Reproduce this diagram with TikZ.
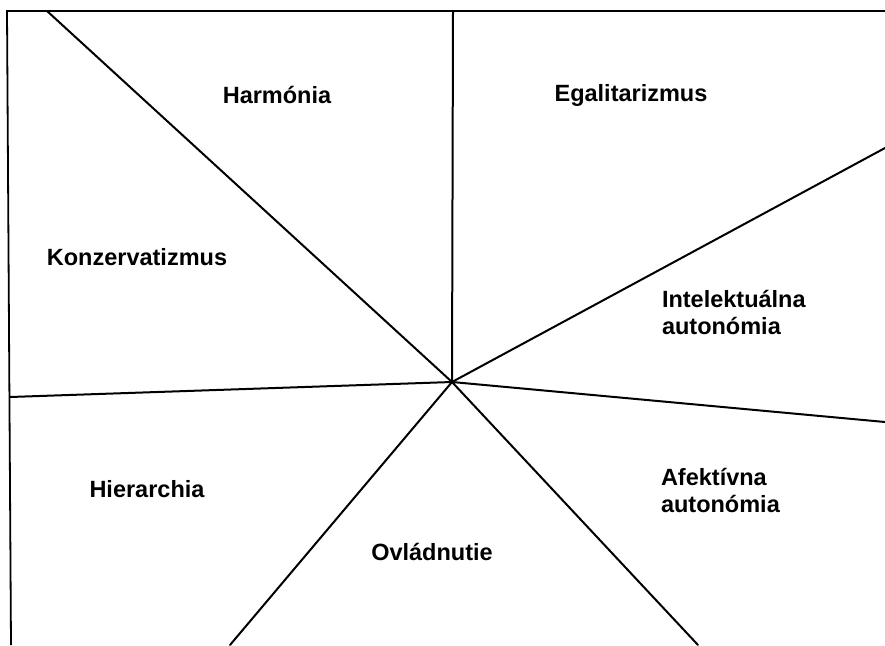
\documentclass[tikz,border=0pt]{standalone}
\usepackage{fontspec}
\setmainfont{Liberation Sans}
\begin{document}
\begin{tikzpicture}[x=1pt,y=-1pt,line width=2pt]
    \tikzstyle{value}=[font=\bfseries\fontsize{23.5}{27}\selectfont,inner sep=0pt]
    \tikzstyle{ray}=[draw=black,line cap=round]
    \useasboundingbox (0,0) rectangle (885,645);

    % frame (left and top edge only)
    \coordinate (F-bl) at (11,645);
    \coordinate (F-tl) at (7,11);
    \coordinate (F-tr) at (885,11);
    \draw[line width=1.8pt] (F-bl) -- (F-tl) -- (F-tr);

    % centre of the circle
    \coordinate (C) at (452,382);

    % outer ends of the rays
    \foreach \x/\y [count=\i] in {47/11,453/11,885/148,885/422,698/645,230/645,10/397}
    \coordinate (R-\i) at (\x,\y);

    % Connect the centre with every outer end
    \foreach \i in {1,...,7}
    \path[ray] (C) -- (R-\i);

    % values
    \node[value] (harmonia) at (277,95) {Harmónia};
    \node[value] (egalit) at (631,95) {Egalitarizmus};
    \node[value] (konzerv) at (137,257) {Konzervatizmus};
    \node[value,anchor=west,align=left] (intel) at (661,312) {Intelektuálna\\autonómia};
    \node[value] (hierarch) at (147,489) {Hierarchia};
    \node[value,anchor=west,align=left] (afekt) at (660,490) {Afektívna\\autonómia};
    \node[value] (ovlad) at (432,552) {Ovládnutie};
\end{tikzpicture}
\end{document}
